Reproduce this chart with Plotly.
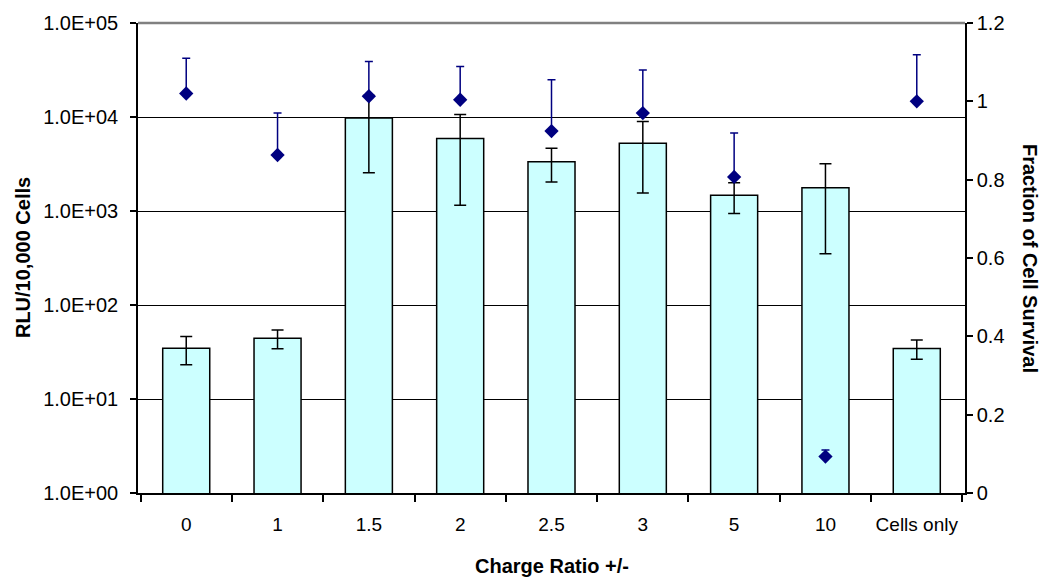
import plotly.graph_objects as go

# Charge ratio groups
categories = ["0", "1", "1.5", "2", "2.5", "3", "5", "10", "Cells only"]

# Luciferase expression (RLU per 10,000 cells) with standard deviation
rlu = [34.6, 44.2, 9750, 5900, 3340, 5250, 1470, 1770, 34.5]
rlu_err = [11.5, 10, 7200, 4750, 1300, 3700, 530, 1420, 8]

# Fraction of surviving cells with upper error
survival = [1.02, 0.863, 1.013, 1.004, 0.924, 0.97, 0.807, 0.093, 1.0]
survival_err = [0.09, 0.107, 0.089, 0.085, 0.131, 0.11, 0.112, 0.017, 0.119]
survival_err_minus = [0, 0, 0, 0, 0, 0, 0, 0, 0]

# Axis tick values
log_ticks = [1, 10, 100, 1000, 10000, 100000]
log_ticktext = ["1.0E+00", "1.0E+01", "1.0E+02", "1.0E+03", "1.0E+04", "1.0E+05"]
frac_ticks = [0, 0.2, 0.4, 0.6, 0.8, 1.0, 1.2]
frac_ticktext = ["0", "0.2", "0.4", "0.6", "0.8", "1", "1.2"]

FONT = "Arial, Liberation Sans, sans-serif"

fig = go.Figure()

fig.add_trace(go.Bar(
    x=categories,
    y=rlu,
    marker=dict(color="#CCFFFF", line=dict(color="#000000", width=1.5)),
    error_y=dict(type="data", array=rlu_err, symmetric=True,
                 color="#000000", thickness=1.5, width=6),
    yaxis="y",
    showlegend=False,
))

fig.add_trace(go.Scatter(
    x=categories,
    y=survival,
    mode="markers",
    marker=dict(symbol="diamond", size=11, color="#000080",
                line=dict(color="#000080", width=0)),
    error_y=dict(type="data", array=survival_err, arrayminus=survival_err_minus,
                 symmetric=False, color="#000080", thickness=1.5, width=4),
    yaxis="y2",
    showlegend=False,
))

fig.update_layout(
    width=1045,
    height=580,
    margin=dict(l=138, r=80, t=21, b=87),
    paper_bgcolor="white",
    plot_bgcolor="white",
    font=dict(family=FONT, size=20, color="#000000"),
    bargap=0.485,
    xaxis=dict(
        type="category",
        showline=True, linecolor="#000000", linewidth=1.5,
        ticks="outside", tickson="boundaries", ticklen=7,
        tickcolor="#000000", tickwidth=1.5,
        showgrid=False, zeroline=False,
        tickangle=0,
        ticklabelstandoff=13,
        tickfont=dict(size=19),
    ),
    yaxis=dict(
        type="log", range=[0, 5],
        tickvals=log_ticks, ticktext=log_ticktext,
        showline=True, linecolor="#000000", linewidth=1.5,
        ticks="outside", ticklen=6, tickcolor="#000000", tickwidth=1.5,
        showgrid=True, gridcolor="#000000", gridwidth=1.2,
        zeroline=False,
        ticklabelstandoff=8,
        tickfont=dict(size=20),
    ),
    yaxis2=dict(
        overlaying="y", side="right",
        range=[0, 1.2],
        tickvals=frac_ticks, ticktext=frac_ticktext,
        showline=True, linecolor="#000000", linewidth=1.5,
        ticks="outside", ticklen=6, tickcolor="#000000", tickwidth=1.5,
        showgrid=False, zeroline=False,
        tickfont=dict(size=20),
    ),
    shapes=[
        # grey top border of the plot area
        dict(type="line", xref="paper", yref="paper", x0=0, x1=1, y0=1, y1=1,
             line=dict(color="#808080", width=2.5), layer="above"),
    ],
    annotations=[
        dict(text="<b>Charge Ratio +/-</b>", xref="paper", yref="paper",
             x=0.5, y=-0.155, xanchor="center", yanchor="middle",
             showarrow=False, font=dict(size=20)),
        dict(text="<b>RLU/10,000 Cells</b>", xref="paper", yref="paper",
             x=-0.139, y=0.5, xanchor="center", yanchor="middle",
             textangle=-90, showarrow=False, font=dict(size=20)),
        dict(text="<b>Fraction of Cell Survival</b>", xref="paper", yref="paper",
             x=1.0786, y=0.5, xanchor="center", yanchor="middle",
             textangle=90, showarrow=False, font=dict(size=20)),
    ],
)

fig.write_html("out.html")
